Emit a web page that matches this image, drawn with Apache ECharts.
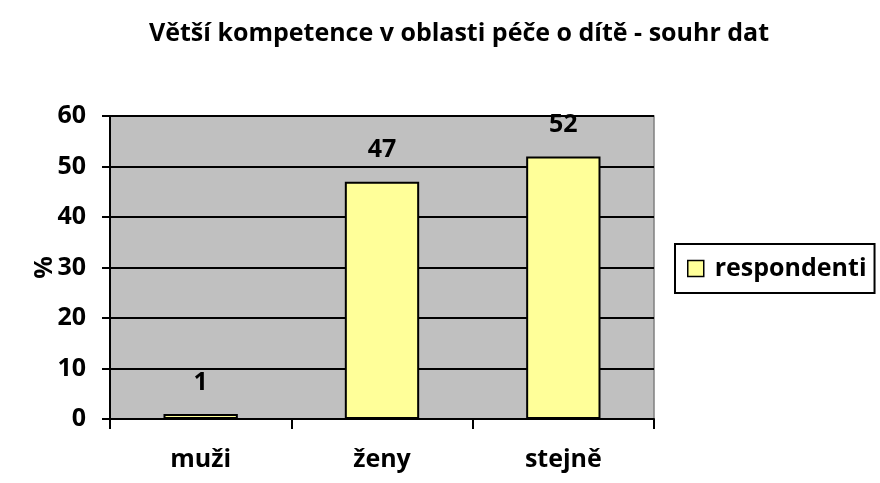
<!DOCTYPE html>
<html><head><meta charset="utf-8">
<script src="https://cdn.jsdelivr.net/npm/echarts@6/dist/echarts.min.js"></script>
<style>html,body{margin:0;padding:0;background:#fff}#c{width:880px;height:483px}</style>
</head><body><div id="c"></div>
<script>
const categories = ['muži', 'ženy', 'stejně'];
const values = [1, 47, 52];
const seriesName = 'respondenti';
const titleText = 'Větší kompetence v oblasti péče o dítě - souhr dat';
const FONT = '"Open Sans", "DejaVu Sans", sans-serif';
const FS = 25;

const chart = echarts.init(document.getElementById('c'));
chart.setOption({
  animation: false,
  backgroundColor: '#fff',
  title: {
    text: titleText, left: 454, top: 16, textAlign: 'center',
    textStyle: {fontFamily: FONT, fontWeight: 'bold', fontSize: 25, color: '#000'}
  },
  legend: {
    data: [seriesName], orient: 'vertical', left: 675, top: 244,
    padding: [12, 8, 12, 12], itemGap: 0,
    backgroundColor: '#fff', borderColor: '#000', borderWidth: 2,
    icon: 'rect', itemWidth: 16, itemHeight: 16,
    itemStyle: {borderColor: '#000', borderWidth: 1.5},
    textStyle: {fontFamily: FONT, fontWeight: 'bold', fontSize: FS, color: '#000', padding: [0, 0, 0, 6]}
  },
  grid: {left: 110, top: 116, right: 226, bottom: 64, show: true, backgroundColor: '#C0C0C0', borderColor: '#808080', borderWidth: 1.5},
  xAxis: {
    type: 'category', data: categories,
    axisLine: {lineStyle: {color: '#000', width: 2}},
    axisTick: {show: true, length: 10, lineStyle: {color: '#000', width: 2}},
    axisLabel: {fontFamily: FONT, fontWeight: 'bold', fontSize: FS, color: '#000', margin: 28}
  },
  yAxis: {
    type: 'value', min: 0, max: 60, interval: 10,
    name: '%', nameLocation: 'middle', nameGap: 53, nameRotate: 90, nameMoveOverlap: false,
    nameTextStyle: {fontFamily: FONT, fontWeight: 'bold', fontSize: FS, color: '#000'},
    axisLine: {show: true, lineStyle: {color: '#000', width: 2}},
    axisTick: {show: true, length: 8, lineStyle: {color: '#000', width: 2}},
    axisLabel: {fontFamily: FONT, fontWeight: 'bold', fontSize: FS, color: '#000', margin: 24},
    splitLine: {lineStyle: {color: '#000', width: 2}}
  },
  series: [{
    name: seriesName, type: 'bar', data: values, barWidth: '41%',
    itemStyle: {color: '#FFFF99', borderColor: '#000', borderWidth: 2},
    label: {show: true, position: 'top', distance: 19, fontFamily: FONT, fontWeight: 'bold', fontSize: FS, color: '#000'}
  }]
});
</script></body></html>
